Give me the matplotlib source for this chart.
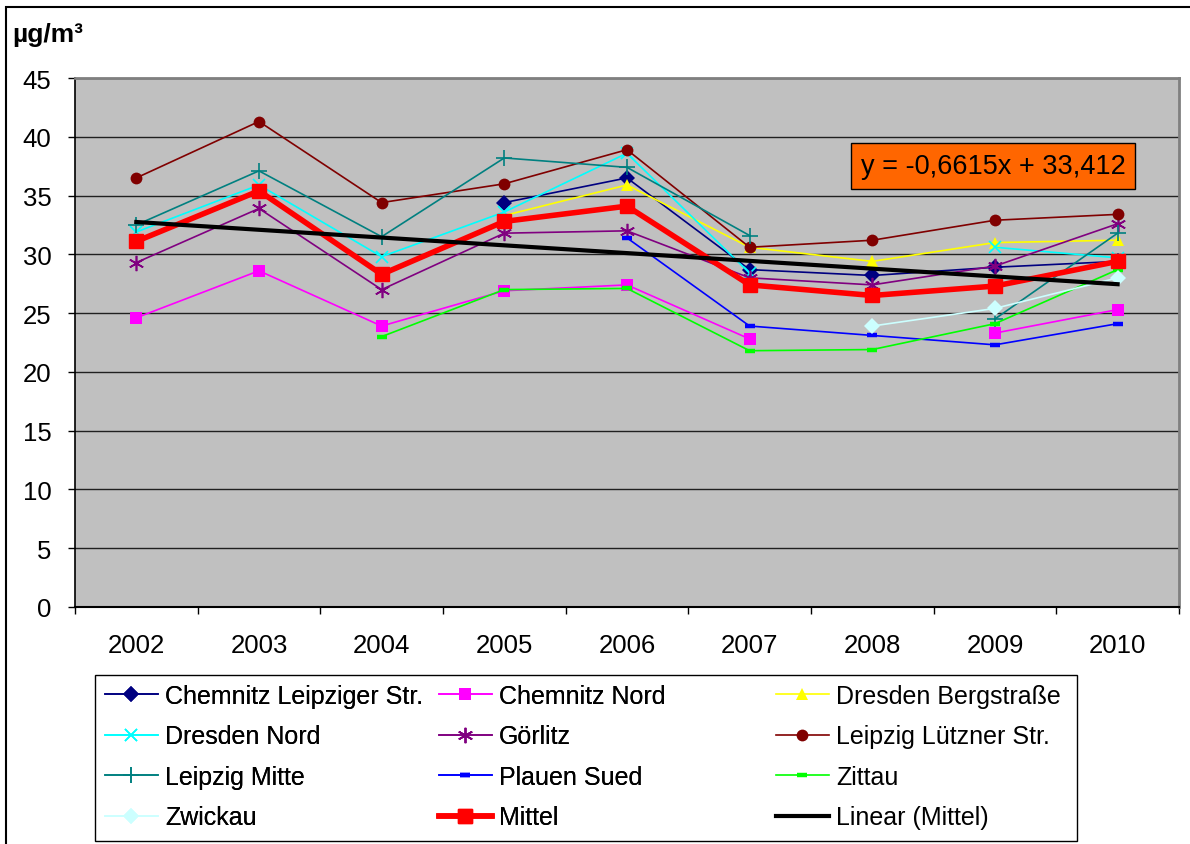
import numpy as np
import matplotlib
matplotlib.use("Agg")
import matplotlib.pyplot as plt
from matplotlib.patches import Rectangle

plt.rcParams['font.family'] = ['Liberation Sans', 'DejaVu Sans']

nan = np.nan
years = ["2002", "2003", "2004", "2005", "2006", "2007", "2008", "2009", "2010"]

chemnitz_leipziger = [nan, nan, nan, 34.4, 36.5, 28.7, 28.2, 28.9, 29.4]
chemnitz_nord = [24.6, 28.6, 23.9, 26.9, 27.4, 22.8, nan, 23.3, 25.3]
dresden_berg = [nan, nan, nan, 33.3, 35.9, 30.6, 29.4, 31.0, 31.2]
dresden_nord = [31.9, 35.9, 29.8, 33.6, 38.6, 28.4, nan, 30.6, 29.7]
goerlitz = [29.3, 33.9, 27.0, 31.8, 32.0, 28.0, 27.4, 29.0, 32.6]
leipzig_luetzner = [36.5, 41.3, 34.4, 36.0, 38.9, 30.6, 31.2, 32.9, 33.4]
leipzig_mitte = [32.5, 37.1, 31.5, 38.2, 37.4, 31.6, nan, 24.5, 31.8]
plauen_sued = [nan, nan, nan, nan, 31.4, 23.9, 23.1, 22.3, 24.1]
zittau = [nan, nan, 23.0, 27.0, 27.1, 21.8, 21.9, 24.1, 28.7]
zwickau = [nan, nan, nan, nan, nan, nan, 23.9, 25.4, 28.0]
mittel = [31.1, 35.4, 28.3, 32.8, 34.1, 27.4, 26.5, 27.3, 29.4]

# Excel trend line for "Mittel"
slope = -0.6615
intercept = 33.412

fig = plt.figure(figsize=(11.9, 8.45), dpi=100)
ax = fig.add_axes([0.063, 0.2805, 0.9277, 0.6260])
ax.set_facecolor("#C0C0C0")

x = np.arange(len(years))

series = [
    ("Chemnitz Leipziger Str.", chemnitz_leipziger, "#000080", "D", 8),
    ("Chemnitz Nord", chemnitz_nord, "#FF00FF", "s", 8),
    ("Dresden Bergstraße", dresden_berg, "#FFFF00", "^", 9),
    ("Dresden Nord", dresden_nord, "#00FFFF", "x", 9),
    ("Görlitz", goerlitz, "#800080", (6, 2, 0), 11),
    ("Leipzig Lützner Str.", leipzig_luetzner, "#800000", "o", 8.5),
    ("Leipzig Mitte", leipzig_mitte, "#008080", "+", 11),
    ("Plauen Sued", plauen_sued, "#0000FF", "_", 6.5),
    ("Zittau", zittau, "#00FF00", "_", 6.5),
    ("Zwickau", zwickau, "#CCFFFF", "D", 8),
]

handles = []
for name, vals, col, mk, ms in series:
    if mk in ("x", "+", "_") or isinstance(mk, tuple):
        mew = 3.2 if mk == "_" else 1.2
    else:
        mew = 0
    ln, = ax.plot(x, vals, color=col, lw=1.2, marker=mk, ms=ms,
                  mec=col, mfc=col, mew=mew, label=name, zorder=3)
    handles.append(ln)

ln, = ax.plot(x, mittel, color="#FF0000", lw=4, marker="s", ms=10,
              mec="#FF0000", mfc="#FF0000", label="Mittel", zorder=4)
handles.append(ln)

trend = slope * (x + 1) + intercept
ln, = ax.plot(x, trend, color="black", lw=3, label="Linear (Mittel)", zorder=5)
handles.append(ln)

ax.set_xlim(-0.5, len(years) - 0.5)
ax.set_ylim(0, 45)
ax.set_yticks(np.arange(0, 46, 5))
ax.yaxis.grid(True, color="#202020", lw=1)
ax.set_axisbelow(True)

ax.set_xticks(x)
ax.set_xticklabels(years)
ax.set_xticks(np.arange(-0.5, len(years), 1), minor=True)
ax.tick_params(axis="x", which="major", length=0, pad=19, labelsize=18.5)
ax.tick_params(axis="x", which="minor", length=5, width=1, direction="out")
ax.tick_params(axis="y", length=5, width=1, pad=12, labelsize=18.5)

for side in ("top", "right"):
    ax.spines[side].set_color("#808080")
    ax.spines[side].set_linewidth(2)
ax.spines["left"].set_color("black")
ax.spines["bottom"].set_color("black")
ax.spines["left"].set_linewidth(1.2)
ax.spines["bottom"].set_linewidth(1.5)

fig.text(0.010, 0.958, "µg/m³", fontsize=19, fontweight="bold", ha="left", va="center")

# equation box of the trend line
ax.text(0.8315, 0.834, "y = -0,6615x + 33,412", transform=ax.transAxes,
        fontsize=19.5, ha="center", va="center",
        bbox=dict(boxstyle="square,pad=0.36", fc="#FF6600", ec="black", lw=1))

# legend: three equal-width columns in a single frame
box_x0, box_y0 = 95 / 1190, 1 - 842 / 845
box_w, box_h = (1077 - 95) / 1190, (842 - 676) / 845
fig.patches.append(Rectangle((box_x0, box_y0), box_w, box_h, transform=fig.transFigure,
                             fill=False, ec="black", lw=1))
col_x = [100 / 1190, 434 / 1190, 771 / 1190]
for c in range(3):
    hs = handles[c::3]
    leg = fig.legend(handles=hs, labels=[h.get_label() for h in hs],
                     loc="upper left", bbox_to_anchor=(col_x[c], 1 - 680 / 845),
                     frameon=False, fontsize=18, handlelength=2.1,
                     handletextpad=0.3, labelspacing=0.66, borderpad=0.2,
                     borderaxespad=0)
    if c < 2:
        fig.add_artist(leg)

# outer chart border
fig.patches.append(Rectangle((6 / 1190, -0.05), 1.2, 1 - 8 / 845 + 0.05,
                             transform=fig.transFigure, fill=False, ec="black", lw=1.5))

fig.savefig("out.png", dpi=100)
